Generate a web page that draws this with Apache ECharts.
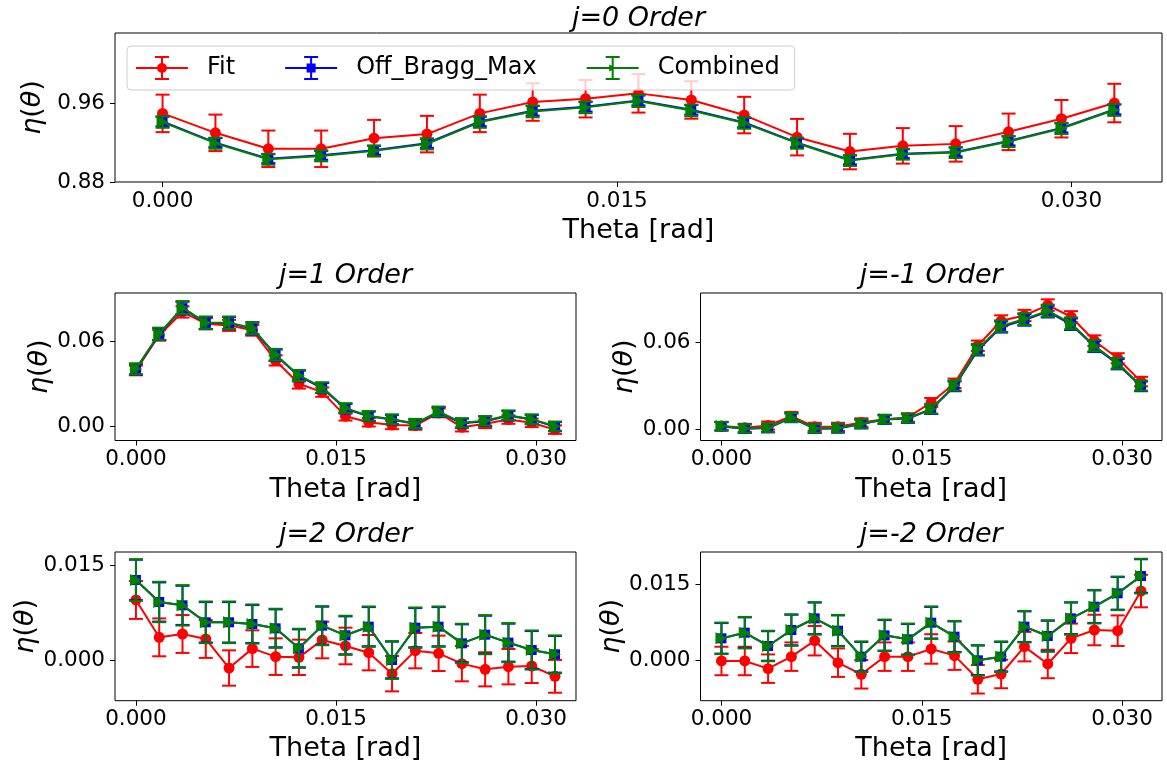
<!DOCTYPE html>
<html>
<head>
<meta charset="utf-8">
<script src="https://cdn.jsdelivr.net/npm/echarts@6/dist/echarts.min.js"></script>
<style>
  html, body { margin: 0; padding: 0; background: #ffffff; }
  #chart { width: 1167px; height: 765px; }
</style>
</head>
<body>
<div id="chart"></div>
<script>
// Scattering angle, 0.0 to 1.8 degrees in 0.1 degree steps, in radians
const thetas = [0.000000, 0.001745, 0.003491, 0.005236, 0.006981, 0.008727, 0.010472, 0.012217, 0.013963, 0.015708,
                0.017453, 0.019199, 0.020944, 0.022689, 0.024435, 0.026180, 0.027925, 0.029671, 0.031416];
const xTicks = [0.000, 0.015, 0.030];
const seriesNames = ['Fit', 'Off_Bragg_Max', 'Combined'];
const panelTitles = ['j=0 Order', 'j=1 Order', 'j=-1 Order', 'j=2 Order', 'j=-2 Order'];

// j = 0
const j0Fit      = [0.9495, 0.9298, 0.9136, 0.9136, 0.9244, 0.9285, 0.9495, 0.9610, 0.9644, 0.9698, 0.9631, 0.9478, 0.9254, 0.9108, 0.9166, 0.9186, 0.9308, 0.9441, 0.9600];
const j0FitErr   = [0.0190, 0.0185, 0.0185, 0.0185, 0.0185, 0.0185, 0.0190, 0.0190, 0.0190, 0.0195, 0.0190, 0.0185, 0.0185, 0.0180, 0.0180, 0.0180, 0.0185, 0.0190, 0.0195];
const j0Off      = [0.9413, 0.9199, 0.9036, 0.9070, 0.9121, 0.9192, 0.9413, 0.9521, 0.9562, 0.9626, 0.9531, 0.9403, 0.9199, 0.9023, 0.9087, 0.9104, 0.9216, 0.9348, 0.9535];
const j0OffErr   = [0.0048, 0.0046, 0.0045, 0.0045, 0.0045, 0.0046, 0.0048, 0.0049, 0.0049, 0.0050, 0.0049, 0.0048, 0.0046, 0.0045, 0.0045, 0.0045, 0.0046, 0.0047, 0.0049];
const j0Comb     = [0.9407, 0.9193, 0.9030, 0.9064, 0.9115, 0.9186, 0.9407, 0.9515, 0.9556, 0.9620, 0.9525, 0.9397, 0.9193, 0.9017, 0.9081, 0.9098, 0.9210, 0.9342, 0.9529];
const j0CombErr  = [0.0058, 0.0056, 0.0055, 0.0055, 0.0055, 0.0056, 0.0058, 0.0059, 0.0059, 0.0060, 0.0059, 0.0058, 0.0056, 0.0055, 0.0055, 0.0055, 0.0056, 0.0057, 0.0059];
const j0YTicks   = [0.88, 0.96];

// j = 1
const j1Fit      = [0.0394, 0.0643, 0.0808, 0.0725, 0.0713, 0.0678, 0.0465, 0.0300, 0.0241, 0.0071, 0.0028, 0.0009, 0.0005, 0.0094, -0.0007, 0.0017, 0.0047, 0.0024, -0.0024];
const j1FitErr   = [0.0034, 0.0038, 0.0040, 0.0039, 0.0039, 0.0038, 0.0036, 0.0034, 0.0033, 0.0031, 0.0030, 0.0030, 0.0030, 0.0031, 0.0030, 0.0030, 0.0030, 0.0030, 0.0030];
const j1Off      = [0.0403, 0.0651, 0.0835, 0.0729, 0.0729, 0.0690, 0.0502, 0.0355, 0.0270, 0.0124, 0.0070, 0.0047, 0.0016, 0.0100, 0.0021, 0.0035, 0.0074, 0.0047, -0.0003];
const j1OffErr   = [0.0038, 0.0042, 0.0045, 0.0043, 0.0043, 0.0042, 0.0040, 0.0038, 0.0036, 0.0034, 0.0033, 0.0033, 0.0032, 0.0034, 0.0032, 0.0033, 0.0033, 0.0033, 0.0032];
const j1Comb     = [0.0406, 0.0654, 0.0839, 0.0732, 0.0732, 0.0694, 0.0506, 0.0359, 0.0274, 0.0128, 0.0073, 0.0050, 0.0019, 0.0104, 0.0024, 0.0038, 0.0078, 0.0050, 0.0000];
const j1CombErr  = [0.0039, 0.0043, 0.0046, 0.0044, 0.0044, 0.0043, 0.0041, 0.0039, 0.0037, 0.0035, 0.0034, 0.0034, 0.0033, 0.0035, 0.0033, 0.0034, 0.0034, 0.0034, 0.0033];
const j1YTicks   = [0.00, 0.06];

// j = -1
const jm1Fit     = [0.0021, 0.0009, 0.0025, 0.0090, 0.0016, 0.0016, 0.0046, 0.0069, 0.0081, 0.0185, 0.0318, 0.0579, 0.0752, 0.0789, 0.0861, 0.0780, 0.0614, 0.0492, 0.0330];
const jm1FitErr  = [0.0028, 0.0028, 0.0028, 0.0029, 0.0028, 0.0028, 0.0029, 0.0029, 0.0029, 0.0031, 0.0033, 0.0036, 0.0038, 0.0039, 0.0040, 0.0039, 0.0037, 0.0035, 0.0033];
const jm1Off     = [0.0019, 0.0003, 0.0007, 0.0078, 0.0003, 0.0005, 0.0035, 0.0066, 0.0073, 0.0137, 0.0297, 0.0548, 0.0709, 0.0758, 0.0816, 0.0728, 0.0573, 0.0451, 0.0297];
const jm1OffErr  = [0.0029, 0.0029, 0.0029, 0.0030, 0.0029, 0.0029, 0.0030, 0.0030, 0.0030, 0.0032, 0.0034, 0.0037, 0.0039, 0.0040, 0.0041, 0.0040, 0.0038, 0.0036, 0.0034];
const jm1Comb    = [0.0021, 0.0005, 0.0009, 0.0081, 0.0005, 0.0007, 0.0037, 0.0069, 0.0076, 0.0141, 0.0302, 0.0554, 0.0715, 0.0764, 0.0822, 0.0734, 0.0579, 0.0457, 0.0302];
const jm1CombErr = [0.0030, 0.0030, 0.0030, 0.0031, 0.0030, 0.0030, 0.0031, 0.0031, 0.0031, 0.0033, 0.0035, 0.0038, 0.0040, 0.0041, 0.0042, 0.0041, 0.0039, 0.0037, 0.0035];
const jm1YTicks  = [0.00, 0.06];

// j = 2
const j2Fit      = [0.00951, 0.00359, 0.00412, 0.00333, -0.00127, 0.00180, 0.00053, 0.00042, 0.00317, 0.00222, 0.00116, -0.00217, 0.00148, 0.00106, -0.00058, -0.00148, -0.00106, -0.00095, -0.00259];
const j2FitErr   = [0.0030, 0.0030, 0.0030, 0.0030, 0.0028, 0.0029, 0.0029, 0.0028, 0.0029, 0.0029, 0.0028, 0.0028, 0.0028, 0.0028, 0.0028, 0.0027, 0.0028, 0.0027, 0.0026];
const j2Off      = [0.01268, 0.00919, 0.00866, 0.00597, 0.00597, 0.00570, 0.00502, 0.00185, 0.00544, 0.00391, 0.00528, 0.00000, 0.00512, 0.00528, 0.00264, 0.00401, 0.00275, 0.00158, 0.00090];
const j2OffErr   = [0.0032, 0.0031, 0.0031, 0.0032, 0.0032, 0.0030, 0.0030, 0.0030, 0.0030, 0.0030, 0.0031, 0.0029, 0.0031, 0.0031, 0.0030, 0.0030, 0.0030, 0.0030, 0.0029];
const j2Comb     = [0.01268, 0.00919, 0.00866, 0.00597, 0.00597, 0.00570, 0.00502, 0.00185, 0.00544, 0.00391, 0.00528, 0.00000, 0.00512, 0.00528, 0.00264, 0.00401, 0.00275, 0.00158, 0.00090];
const j2CombErr  = [0.0033, 0.0032, 0.0032, 0.0033, 0.0033, 0.0031, 0.0031, 0.0031, 0.0031, 0.0031, 0.0032, 0.0030, 0.0032, 0.0032, 0.0031, 0.0031, 0.0031, 0.0031, 0.0030];
const j2YTicks   = [0.000, 0.015];

// j = -2
const jm2Fit     = [-0.00013, -0.00013, -0.00164, 0.00072, 0.00386, -0.00046, -0.00275, 0.00072, 0.00072, 0.00223, 0.00092, -0.00373, -0.00269, 0.00269, -0.00072, 0.00432, 0.00596, 0.00583, 0.01362];
const jm2FitErr  = [0.0028, 0.0028, 0.0028, 0.0028, 0.0029, 0.0028, 0.0028, 0.0028, 0.0028, 0.0029, 0.0028, 0.0028, 0.0028, 0.0029, 0.0028, 0.0029, 0.0030, 0.0030, 0.0032];
const jm2Off     = [0.00432, 0.00544, 0.00282, 0.00596, 0.00825, 0.00583, 0.00072, 0.00491, 0.00413, 0.00740, 0.00465, 0.00000, 0.00072, 0.00662, 0.00478, 0.00825, 0.01055, 0.01317, 0.01657];
const jm2OffErr  = [0.0030, 0.0030, 0.0029, 0.0030, 0.0031, 0.0030, 0.0029, 0.0030, 0.0030, 0.0031, 0.0030, 0.0029, 0.0029, 0.0030, 0.0030, 0.0031, 0.0032, 0.0032, 0.0033];
const jm2Comb    = [0.00432, 0.00544, 0.00282, 0.00596, 0.00825, 0.00583, 0.00072, 0.00491, 0.00413, 0.00740, 0.00465, 0.00000, 0.00072, 0.00662, 0.00478, 0.00825, 0.01055, 0.01317, 0.01657];
const jm2CombErr = [0.0031, 0.0031, 0.0030, 0.0031, 0.0032, 0.0031, 0.0030, 0.0031, 0.0031, 0.0032, 0.0031, 0.0030, 0.0030, 0.0031, 0.0031, 0.0032, 0.0033, 0.0033, 0.0034];
const jm2YTicks  = [0.000, 0.015];

// Panel data, in drawing order: j=0 (full width), j=1, j=-1, j=2, j=-2
const panels = [
  { title: panelTitles[0], fit: j0Fit,  fitErr: j0FitErr,  off: j0Off,  offErr: j0OffErr,  comb: j0Comb,  combErr: j0CombErr,  yTicks: j0YTicks,  digits: 2, yMin: 0.87995, yMax: 1.031 },
  { title: panelTitles[1], fit: j1Fit,  fitErr: j1FitErr,  off: j1Off,  offErr: j1OffErr,  comb: j1Comb,  combErr: j1CombErr,  yTicks: j1YTicks,  digits: 2, yMin: -0.0101, yMax: 0.0942 },
  { title: panelTitles[2], fit: jm1Fit, fitErr: jm1FitErr, off: jm1Off, offErr: jm1OffErr, comb: jm1Comb, combErr: jm1CombErr, yTicks: jm1YTicks, digits: 2, yMin: -0.0079, yMax: 0.0945 },
  { title: panelTitles[3], fit: j2Fit,  fitErr: j2FitErr,  off: j2Off,  offErr: j2OffErr,  comb: j2Comb,  combErr: j2CombErr,  yTicks: j2YTicks,  digits: 3, yMin: -0.00645, yMax: 0.01711 },
  { title: panelTitles[4], fit: jm2Fit, fitErr: jm2FitErr, off: jm2Off, offErr: jm2OffErr, comb: jm2Comb, combErr: jm2CombErr, yTicks: jm2YTicks, digits: 3, yMin: -0.00794, yMax: 0.0213 }
];

// Plot area boxes (px) and title positions
const boxes = [
  { left: 115,   top: 33,  width: 1047,  height: 149 },
  { left: 115,   top: 293, width: 461,   height: 147.5 },
  { left: 700.5, top: 293, width: 461.5, height: 147.5 },
  { left: 115,   top: 552, width: 461,   height: 148.7 },
  { left: 700.5, top: 552, width: 461.5, height: 148.7 }
];
const titleTops = [5, 262, 262, 521, 521];
const xNameGaps = [35, 36, 36, 35, 35];

// 5% padding either side of the angle range
const xMin = -0.00157, xMax = 0.03299;

const FONT = 'DejaVu Sans';
const RED = '#ff0000', BLUE = '#0000ff', GREEN = '#008000';
const TRI_RIGHT = 'path://M0,0 L10,5 L0,10 Z';

// Legend handles: horizontal line, error bar with caps, marker (drawn clockwise so nothing cuts out)
const handleBase = 'M0,11 H52 V13 H0 Z M25,0 H27 V24 H25 Z M19,0 H33 V2 H19 Z M19,22 H33 V24 H19 Z M66,12 L66,12.01 L66.01,12 Z ';
const fitIcon  = 'path://' + handleBase + 'M21,12 A5,5 0 1,1 31,12 A5,5 0 1,1 21,12 Z';
const offIcon  = 'path://' + handleBase + 'M21.5,7.5 H30.5 V16.5 H21.5 Z';
const combIcon = 'path://' + handleBase + 'M22.5,8.5 L29.5,12 L22.5,15.5 Z';

function errorBars(color) {
  return function (params, api) {
    const x = api.value(0), y = api.value(1), e = api.value(2);
    const hi = api.coord([x, y + e]);
    const lo = api.coord([x, y - e]);
    const cap = 7;
    const style = { stroke: color, lineWidth: 2, fill: null };
    return {
      type: 'group',
      children: [
        { type: 'line', shape: { x1: hi[0], y1: hi[1], x2: lo[0], y2: lo[1] }, style: style },
        { type: 'line', shape: { x1: hi[0] - cap, y1: hi[1], x2: hi[0] + cap, y2: hi[1] }, style: style },
        { type: 'line', shape: { x1: lo[0] - cap, y1: lo[1], x2: lo[0] + cap, y2: lo[1] }, style: style }
      ]
    };
  };
}

const grid = [], xAxis = [], yAxis = [], series = [], title = [];

panels.forEach(function (p, k) {
  const b = boxes[k];
  grid.push({
    left: b.left, top: b.top, width: b.width, height: b.height,
    show: true, borderColor: '#000000', borderWidth: 1, backgroundColor: '#ffffff',
    containLabel: false, outerBoundsMode: 'none'
  });
  title.push({
    text: p.title, left: b.left + b.width / 2, top: titleTops[k], textAlign: 'center',
    padding: 0,
    textStyle: { fontFamily: FONT, fontSize: 27, fontStyle: 'italic', fontWeight: 'normal', color: '#000000' }
  });
  xAxis.push({
    type: 'value', gridIndex: k, min: xMin, max: xMax, position: 'bottom',
    name: 'Theta [rad]', nameLocation: 'middle', nameGap: xNameGaps[k],
    nameTextStyle: { fontFamily: FONT, fontSize: 27, color: '#000000' },
    axisLine: { show: false, onZero: false },
    axisTick: { show: true, inside: false, length: 5, customValues: xTicks, lineStyle: { color: '#000000', width: 1 } },
    axisLabel: { show: true, customValues: xTicks, margin: 8, fontFamily: FONT, fontSize: 21.5, color: '#000000',
                 formatter: function (v) { return v.toFixed(3); } },
    splitLine: { show: false }
  });
  yAxis.push({
    type: 'value', gridIndex: k, min: p.yMin, max: p.yMax, position: 'left',
    name: '{i|η}({i|θ})', nameLocation: 'middle', nameGap: 60, nameRotate: 90,
    nameTextStyle: { fontFamily: FONT, fontSize: 27, color: '#000000',
                     rich: { i: { fontFamily: FONT, fontSize: 27, fontStyle: 'italic', color: '#000000' } } },
    axisLine: { show: false, onZero: false },
    axisTick: { show: true, inside: false, length: 5, customValues: p.yTicks, lineStyle: { color: '#000000', width: 1 } },
    axisLabel: { show: true, customValues: p.yTicks, margin: 10, fontFamily: FONT, fontSize: 21.5, color: '#000000',
                 formatter: function (v) { return v.toFixed(p.digits); } },
    splitLine: { show: false }
  });

  const sets = [
    { name: seriesNames[0], vals: p.fit,  errs: p.fitErr,  color: RED,   symbol: 'circle',  size: 11, z: 2 },
    { name: seriesNames[1], vals: p.off,  errs: p.offErr,  color: BLUE,  symbol: 'rect',    size: 10, z: 3 },
    { name: seriesNames[2], vals: p.comb, errs: p.combErr, color: GREEN, symbol: TRI_RIGHT, size: 12, z: 4 }
  ];
  sets.forEach(function (s) {
    series.push({
      type: 'custom', name: s.name, xAxisIndex: k, yAxisIndex: k, z: s.z,
      renderItem: errorBars(s.color),
      encode: { x: 0, y: 1 },
      itemStyle: { color: s.color },
      data: thetas.map(function (t, i) { return [t, s.vals[i], s.errs[i]]; }),
      silent: true
    });
    series.push({
      type: 'line', name: s.name, xAxisIndex: k, yAxisIndex: k, z: s.z,
      symbol: s.symbol, symbolSize: s.size, showSymbol: true, showAllSymbol: true,
      lineStyle: { color: s.color, width: 2 },
      itemStyle: { color: s.color, borderWidth: 0 },
      data: thetas.map(function (t, i) { return [t, s.vals[i]]; }),
      silent: true
    });
  });
});

const chart = echarts.init(document.getElementById('chart'), null, { renderer: 'canvas' });
chart.setOption({
  animation: false,
  backgroundColor: '#ffffff',
  title: title,
  grid: grid,
  xAxis: xAxis,
  yAxis: yAxis,
  legend: {
    left: 127, top: 46, orient: 'horizontal',
    itemWidth: 66, itemHeight: 24, itemGap: 50,
    padding: [10, 15, 10, 9],
    backgroundColor: 'rgba(255,255,255,0.8)', borderColor: '#cccccc', borderWidth: 1, borderRadius: 4,
    textStyle: { fontFamily: FONT, fontSize: 24, color: '#000000' },
    selectedMode: false,
    data: [
      { name: seriesNames[0], icon: fitIcon,  itemStyle: { color: RED,   borderWidth: 0 } },
      { name: seriesNames[1], icon: offIcon,  itemStyle: { color: BLUE,  borderWidth: 0 } },
      { name: seriesNames[2], icon: combIcon, itemStyle: { color: GREEN, borderWidth: 0 } }
    ]
  },
  series: series
});
</script>
</body>
</html>
